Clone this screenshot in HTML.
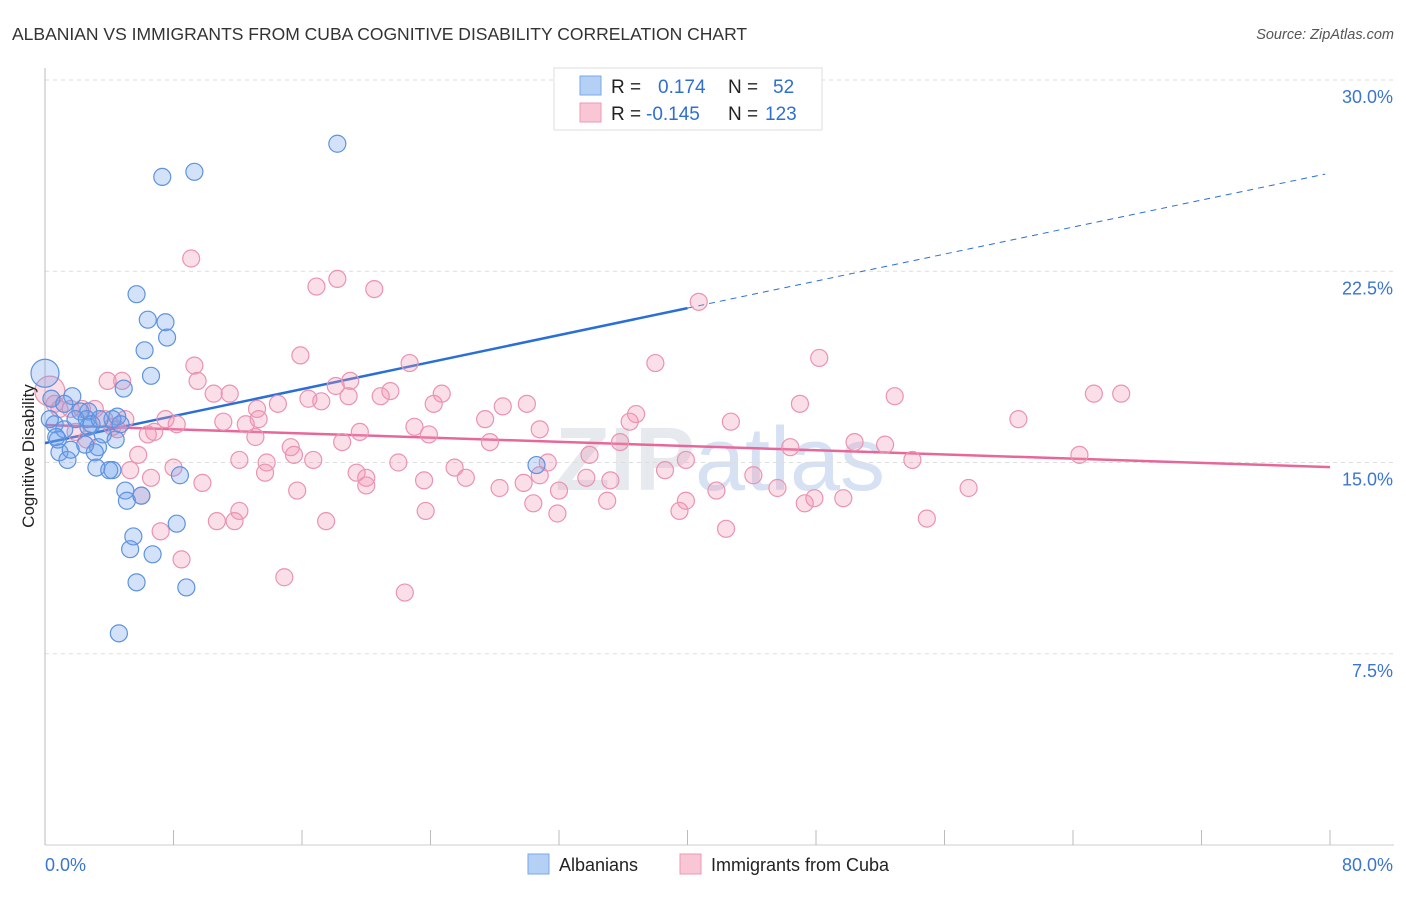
<!DOCTYPE html>
<html><head><meta charset="utf-8"><style>
body{margin:0;background:#fff;font-family:"Liberation Sans",sans-serif;}
svg text{font-family:"Liberation Sans",sans-serif;}
</style></head><body>
<svg id="chart" width="1406" height="892" xmlns="http://www.w3.org/2000/svg">
<text x="12" y="40" font-size="17.5" fill="#333">ALBANIAN VS IMMIGRANTS FROM CUBA COGNITIVE DISABILITY CORRELATION CHART</text>
<text x="1394" y="39" font-size="14.5" fill="#555" font-style="italic" text-anchor="end">Source: ZipAtlas.com</text>
<text x="720" y="490" font-size="90" fill="#e6e9ee" text-anchor="middle" font-weight="bold">ZIP<tspan fill="#d6e2f3" font-weight="normal">atlas</tspan></text>
<g id="grid"></g><g id="axes"></g><g id="trend"></g><g id="pts"></g>
<text transform="translate(34,456) rotate(-90)" font-size="17" fill="#222" text-anchor="middle">Cognitive Disability</text>
<g>
<rect x="554" y="68" width="268" height="62" fill="#fff" stroke="#ddd"/>
<rect x="580" y="76" width="21" height="19" fill="#b5d0f5" stroke="#7aa7e6"/>
<rect x="580" y="103" width="21" height="19" fill="#f9c6d6" stroke="#ec9ab4"/>
<text x="611" y="93" font-size="19" fill="#222">R = <tspan x="658" fill="#2f6fd0">0.174</tspan><tspan x="728" fill="#222">N = </tspan><tspan x="773" fill="#2f6fd0">52</tspan></text>
<text x="611" y="120" font-size="19" fill="#222">R = <tspan x="646" fill="#2f6fd0">-0.145</tspan><tspan x="728" fill="#222">N = </tspan><tspan x="765" fill="#2f6fd0">123</tspan></text>
</g>
<g>
<rect x="528" y="854" width="21" height="20" fill="#b5d0f5" stroke="#7aa7e6"/>
<text x="559" y="871" font-size="18" fill="#222">Albanians</text>
<rect x="680" y="854" width="21" height="20" fill="#f9c6d6" stroke="#ec9ab4"/>
<text x="711" y="871" font-size="18" fill="#222">Immigrants from Cuba</text>
</g>
</svg>
<script>
const yTicks=[7.5,15,22.5,30];
const yTickLabels=["7.5%","15.0%","22.5%","30.0%"];
const xTickLabels=["0.0%","80.0%"];
const blueTrend=[15.76,26.35];
const pinkTrend=[16.47,14.82];
const blueSolidEnd=40;
const albanians=[[18.2,27.5],[7.3,26.2],[9.3,26.4],[5.7,21.6],[6.4,20.6],[7.5,20.5],[7.6,19.9],[6.2,19.4],[6.6,18.4],[2.2,17.0],[4.9,17.9],[1.7,17.6],[0.4,17.5],[4.5,16.8],[2.7,17.0],[2.6,16.7],[4.2,16.7],[0.6,16.5],[1.2,16.3],[2.7,16.4],[3.6,16.1],[3.3,15.6],[3.1,15.4],[0.9,15.4],[1.4,15.1],[3.2,14.8],[4.2,14.7],[4.0,14.7],[5.0,13.9],[5.1,13.5],[6.0,13.7],[8.4,14.5],[8.2,12.6],[5.5,12.1],[5.3,11.6],[6.7,11.4],[5.7,10.3],[8.8,10.1],[4.6,8.3],[30.6,14.9],[0.8,15.9],[1.6,15.5],[4.4,15.9],[1.9,16.7],[2.9,16.5],[0.3,16.7],[3.4,16.7],[4.7,16.5],[0.7,16.0],[2.5,15.7],[1.2,17.3]];
const albanianBig=[[0,18.5]];
const cuba=[[9.1,23.0],[18.2,22.2],[16.9,21.9],[20.5,21.8],[40.7,21.3],[15.9,19.2],[22.7,18.9],[48.2,19.1],[38.0,18.9],[9.3,18.8],[9.5,18.2],[19.0,18.2],[18.1,18.0],[4.8,18.2],[3.9,18.2],[10.5,17.7],[11.5,17.7],[21.5,17.8],[24.7,17.7],[18.9,17.6],[20.9,17.6],[17.2,17.4],[16.4,17.5],[14.5,17.3],[13.2,17.1],[65.3,17.7],[67.0,17.7],[52.9,17.6],[47.0,17.3],[30.0,17.3],[28.5,17.2],[24.2,17.3],[36.8,16.9],[13.3,16.7],[7.5,16.7],[27.4,16.7],[11.1,16.6],[12.5,16.5],[42.7,16.6],[60.6,16.7],[36.4,16.6],[23.0,16.4],[30.8,16.3],[8.2,16.5],[6.4,16.1],[6.8,16.2],[4.5,16.3],[23.9,16.1],[19.6,16.2],[13.1,16.0],[27.7,15.8],[35.8,15.8],[50.4,15.8],[52.3,15.7],[15.3,15.6],[15.5,15.3],[18.5,15.8],[46.4,15.6],[64.4,15.3],[39.9,15.1],[33.9,15.3],[31.3,15.0],[12.1,15.1],[13.8,15.0],[16.7,15.1],[22.0,15.0],[5.8,15.3],[25.5,14.8],[5.3,14.7],[8.0,14.8],[13.7,14.6],[19.4,14.6],[20.0,14.4],[38.6,14.7],[44.1,14.5],[54.0,15.1],[26.2,14.4],[30.8,14.5],[33.7,14.4],[35.2,14.3],[20.0,14.1],[29.8,14.2],[9.8,14.2],[6.6,14.4],[15.7,13.9],[28.3,14.0],[30.4,13.4],[32.0,13.9],[41.8,13.9],[45.6,14.0],[57.5,14.0],[35.0,13.5],[39.9,13.5],[47.3,13.4],[49.7,13.6],[47.9,13.6],[6.0,13.7],[23.6,14.3],[31.9,13.0],[23.7,13.1],[39.5,13.1],[12.1,13.1],[10.7,12.7],[11.8,12.7],[17.5,12.7],[7.2,12.3],[42.4,12.4],[54.9,12.8],[8.5,11.2],[14.9,10.5],[22.4,9.9],[0.6,17.3],[0.9,17.1],[1.6,17.1],[2.3,17.1],[3.1,17.1],[3.7,16.7],[5.0,16.7],[1.9,16.2],[2.6,15.9],[4.2,16.4]];
const cubaBig=[[0.3,17.8]];
const NS="http://www.w3.org/2000/svg";
const X0=45,X1=1330,Y0=845,YTOP=80;
function xs(v){return X0+v/80*(X1-X0);}
function ys(v){return Y0-v/30*(Y0-YTOP);}
function mk(tag,attrs,parent){const e=document.createElementNS(NS,tag);for(const k in attrs)e.setAttribute(k,attrs[k]);parent.appendChild(e);return e;}
const grid=document.getElementById('grid'),axes=document.getElementById('axes'),trend=document.getElementById('trend'),pts=document.getElementById('pts');
yTicks.forEach((t,i)=>{
 const l=mk('line',{x1:X0,x2:1394,y1:ys(t),y2:ys(t),stroke:'#ddd','stroke-dasharray':'4,4'},grid);
 
 
 const tx=mk('text',{x:1393,y:ys(t)+23,'font-size':18,fill:'#3a75d0','text-anchor':'end'},axes);
 tx.textContent=yTickLabels[i];
 
 
});
let a=mk('line',{x1:X0,x2:X0,y1:68,y2:Y0,stroke:'#bbb'},axes);


a=mk('line',{x1:X0,x2:1394,y1:Y0,y2:Y0,stroke:'#ccc'},axes);


for(let i=0;i<=10;i++){
 const t=mk('line',{x1:xs(i*8),x2:xs(i*8),y1:830,y2:Y0,stroke:'#bbb'},axes);
 
 
}
[[0,45,'start'],[80,1393,'end']].forEach((d,i)=>{
 const t=mk('text',{x:d[1],y:871,'font-size':18,fill:'#3a75d0','text-anchor':d[2]},axes);
 t.textContent=xTickLabels[i];
 
 
});
function pt(d,r,fill,stroke,name){
 const c=mk('circle',{cx:xs(d[0]),cy:ys(d[1]),r:r,fill:fill,stroke:stroke,'stroke-width':1.2},pts);
 
 
}
cuba.forEach(d=>pt(d,8.5,'rgba(242,150,180,0.3)','#eb93b0','cuba-point'));
cubaBig.forEach(d=>pt(d,15,'rgba(242,150,180,0.3)','#eb93b0','cuba-point'));
albanians.forEach(d=>pt(d,8.5,'rgba(110,160,235,0.3)','#5d93df','albanian-point'));
albanianBig.forEach(d=>pt(d,14,'rgba(110,160,235,0.3)','#5d93df','albanian-point'));
const slope=(blueTrend[1]-blueTrend[0])/80;
let l=mk('line',{x1:xs(0),y1:ys(blueTrend[0]),x2:xs(blueSolidEnd),y2:ys(blueTrend[0]+slope*blueSolidEnd),stroke:'#2a6fd6','stroke-width':2.5},trend);


l=mk('line',{x1:xs(blueSolidEnd),y1:ys(blueTrend[0]+slope*blueSolidEnd),x2:xs(79.7),y2:ys(blueTrend[0]+slope*79.7),stroke:'#2a6fd6','stroke-width':1,'stroke-dasharray':'6,5'},trend);


l=mk('line',{x1:xs(0),y1:ys(pinkTrend[0]),x2:xs(80),y2:ys(pinkTrend[1]),stroke:'#e8679a','stroke-width':2.5},trend);


</script>
</body></html>
